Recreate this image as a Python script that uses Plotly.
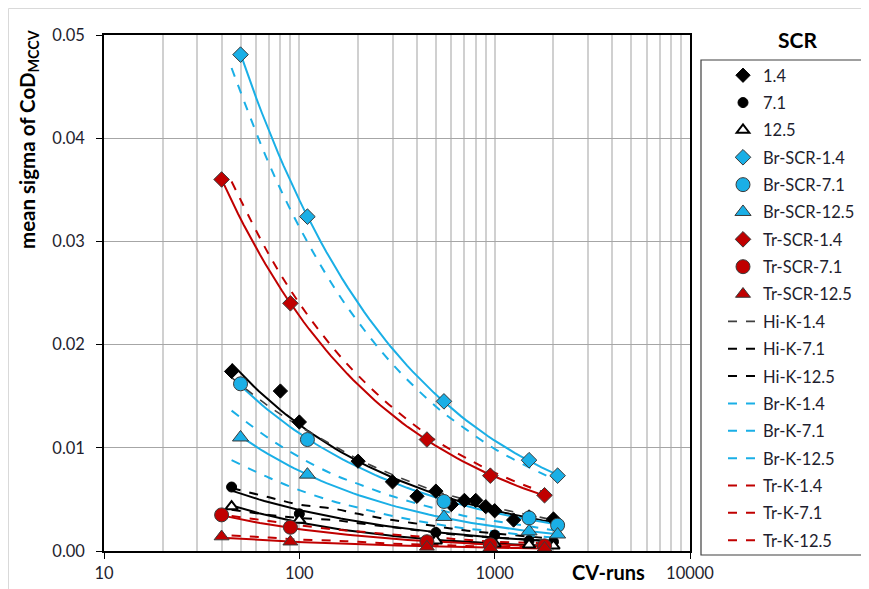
import numpy as np
import plotly.graph_objects as go

# ---------------- data ----------------
hi_x_14 = [45, 80, 100, 200, 300, 400, 500, 600, 700, 800, 900, 1000, 1250, 1500, 2000]
hi_y_14 = [0.0174, 0.0155, 0.0125, 0.0087, 0.0067, 0.0053, 0.0058, 0.0045, 0.0049, 0.0049,
           0.0043, 0.0039, 0.0030, 0.0033, 0.0031]
hi_x_71 = [45, 100, 500, 1000, 1500, 2000]
hi_y_71 = [0.0062, 0.0036, 0.0018, 0.00155, 0.0010, 0.0009]
hi_x_125 = [45, 100, 500, 1000, 1500, 2000]
hi_y_125 = [0.0043, 0.0030, 0.0010, 0.0007, 0.0006, 0.0005]

br_x = [50, 110, 550, 1500, 2100]
br_y_14 = [0.0481, 0.0324, 0.0145, 0.0088, 0.0073]
br_y_71 = [0.0162, 0.0108, 0.0048, 0.0032, 0.0025]
br_y_125 = [0.0110, 0.0074, 0.0033, 0.0019, 0.0016]

tr_x = [40, 90, 450, 950, 1800]
tr_y_14 = [0.0360, 0.0240, 0.0108, 0.0073, 0.0054]
tr_y_71 = [0.0035, 0.0023, 0.0009, 0.0006, 0.0005]
tr_y_125 = [0.0014, 0.0009, 0.0004, 0.0003, 0.0003]

k_x = [45, 70, 100, 150, 200, 300, 500, 700, 1000, 1500, 2000]
hi_k_14 = [0.0168, 0.0140, 0.0121, 0.0102, 0.0089, 0.0074, 0.0058, 0.0050, 0.0042, 0.0035, 0.0030]
hi_k_71 = [0.0061, 0.0052, 0.0045, 0.0041, 0.0036, 0.0030, 0.0024, 0.0020, 0.0017, 0.0014, 0.0012]
hi_k_125 = [0.0040, 0.0035, 0.0032, 0.0030, 0.0027, 0.0023, 0.0018, 0.0015, 0.0013, 0.0011, 0.0009]
br_k_14 = [0.0468, 0.0375, 0.0314, 0.0256, 0.0222, 0.0181, 0.0140, 0.0119, 0.0099, 0.0081, 0.0070]
br_k_71 = [0.0136, 0.0109, 0.0091, 0.0074, 0.0065, 0.0053, 0.0041, 0.0034, 0.0029, 0.0024, 0.0020]
br_k_125 = [0.0088, 0.0071, 0.0059, 0.0048, 0.0042, 0.0034, 0.0026, 0.0022, 0.0019, 0.0015, 0.0013]
tr_k_14 = [0.0358, 0.0287, 0.0240, 0.0196, 0.0170, 0.0139, 0.0107, 0.0091, 0.0076, 0.0062, 0.0054]
tr_k_71 = [0.0034, 0.0029, 0.0025, 0.0021, 0.0019, 0.0016, 0.0013, 0.0011, 0.0009, 0.0008, 0.0007]
tr_k_125 = [0.0015, 0.0013, 0.0011, 0.0010, 0.0009, 0.0007, 0.0006, 0.0005, 0.0004, 0.0004, 0.0003]

x_tick_vals = [10, 100, 1000, 10000]
x_tick_text = ["10", "100", "1000", "10000"]
x_minor_vals = [m * d for d in (10, 100, 1000) for m in range(2, 10)]

# ---------------- styles ----------------
BLACK = "#000000"
BLUE = "#1AAFE6"
RED = "#C00000"
EDGE = "#3A3A3A"
FONT = "Lato, 'Noto Sans', sans-serif"
TXT = "#1E1E2E"

fig = go.Figure()


def power_fit(xs, ys, n=60):
    lx, ly = np.log10(xs), np.log10(ys)
    b, a = np.polyfit(lx, ly, 1)
    xx = np.logspace(lx.min(), lx.max(), n)
    return xx, 10 ** (a + b * np.log10(xx))


marker_series = [
    ("1.4", hi_x_14, hi_y_14, dict(symbol="diamond", size=11, color=BLACK, line=dict(color=BLACK, width=1)), BLACK),
    ("7.1", hi_x_71, hi_y_71, dict(symbol="circle", size=10, color=BLACK, line=dict(color=BLACK, width=1)), BLACK),
    ("12.5", hi_x_125, hi_y_125, dict(symbol="triangle-up", size=11, color="white", line=dict(color=BLACK, width=2)), BLACK),
    ("Br-SCR-1.4", br_x, br_y_14, dict(symbol="diamond", size=12, color=BLUE, line=dict(color=EDGE, width=1)), BLUE),
    ("Br-SCR-7.1", br_x, br_y_71, dict(symbol="circle", size=14, color=BLUE, line=dict(color=EDGE, width=1)), BLUE),
    ("Br-SCR-12.5", br_x, br_y_125, dict(symbol="triangle-up", size=14, color=BLUE, line=dict(color=EDGE, width=1)), BLUE),
    ("Tr-SCR-1.4", tr_x, tr_y_14, dict(symbol="diamond", size=12, color=RED, line=dict(color=EDGE, width=1)), RED),
    ("Tr-SCR-7.1", tr_x, tr_y_71, dict(symbol="circle", size=14, color=RED, line=dict(color=EDGE, width=1)), RED),
    ("Tr-SCR-12.5", tr_x, tr_y_125, dict(symbol="triangle-up", size=13, color=RED, line=dict(color=EDGE, width=1)), RED),
]

k_series = [
    ("Hi-K-1.4", hi_k_14, "#404040", 1.6),
    ("Hi-K-7.1", hi_k_71, BLACK, 2),
    ("Hi-K-12.5", hi_k_125, BLACK, 2),
    ("Br-K-1.4", br_k_14, BLUE, 2),
    ("Br-K-7.1", br_k_71, BLUE, 2),
    ("Br-K-12.5", br_k_125, BLUE, 2),
    ("Tr-K-1.4", tr_k_14, RED, 2),
    ("Tr-K-7.1", tr_k_71, RED, 2),
    ("Tr-K-12.5", tr_k_125, RED, 2),
]

# trendlines (power fits, not in legend)
for name, xs, ys, mk, col in marker_series:
    tx, ty = power_fit(np.array(xs, float), np.array(ys, float))
    fig.add_trace(go.Scatter(x=tx, y=ty, mode="lines", line=dict(color=col, width=2),
                             legendgroup=name, showlegend=False, hoverinfo="skip"))

# K curves
for i, (name, ys, col, w) in enumerate(k_series):
    fig.add_trace(go.Scatter(x=k_x, y=ys, mode="lines", name=name,
                             line=dict(color=col, width=w, dash="dash", shape="spline"),
                             legendgroup=name, legendrank=100 + i))

# markers on top
for i, (name, xs, ys, mk, col) in enumerate(marker_series):
    fig.add_trace(go.Scatter(x=xs, y=ys, mode="markers", name=name, marker=mk,
                             legendgroup=name, legendrank=1 + i))

# ---------------- layout ----------------
# the page body adds an 8 px margin, so the figure is drawn 8 px smaller
OFF = 8
W, H = 869 - OFF, 589 - OFF
L, T = 104 - OFF, 35 - OFF
R = W - (690 - OFF)
B = H - (551 - OFF)
pw, ph = W - L - R, H - T - B


def px_x(px):
    return (px - OFF - L) / pw


def px_y(py):
    return (H - B - (py - OFF)) / ph


fig.update_layout(
    width=W, height=H,
    margin=dict(l=L, r=R, t=T, b=B, pad=0, autoexpand=False),
    paper_bgcolor="white", plot_bgcolor="white",
    font=dict(family=FONT, size=16, color=TXT),
    showlegend=True,
    legend=dict(
        x=px_x(723), y=px_y(58), xanchor="left", yanchor="top",
        borderwidth=0, bgcolor="rgba(0,0,0,0)",
        font=dict(family=FONT, size=16.5, color=TXT),
        traceorder="grouped", tracegroupgap=2.9,
        entrywidth=110, entrywidthmode="pixels",
        itemsizing="trace",
    ),
    xaxis=dict(
        type="log", range=[1, 4],
        tickvals=x_tick_vals, ticktext=x_tick_text,
        ticks="outside", ticklen=6, tickcolor=BLACK,
        showline=True, linecolor=BLACK, linewidth=1.5, mirror=True,
        showgrid=True, gridcolor="#D0D0D0", gridwidth=1.5,
        minor=dict(tickvals=x_minor_vals, showgrid=True, gridcolor="#D0D0D0", gridwidth=1.5, ticks=""),
        tickfont=dict(size=16.5),
        zeroline=False,
    ),
    yaxis=dict(
        range=[0, 0.05], dtick=0.01, tickformat=".2f",
        ticks="outside", ticklen=6, tickcolor=BLACK,
        ticklabelstandoff=8,
        showline=True, linecolor=BLACK, linewidth=1.5, mirror=True,
        showgrid=True, gridcolor="#A6A6A6", gridwidth=1.3,
        tickfont=dict(size=16.5),
        zeroline=False,
    ),
    annotations=[
        dict(text="<b>SCR</b>", x=px_x(797), y=px_y(39), xref="paper", yref="paper",
             showarrow=False, font=dict(size=21, color=BLACK), xanchor="center", yanchor="middle"),
        dict(text="<b>CV-runs</b>", x=px_x(608), y=px_y(572), xref="paper", yref="paper",
             showarrow=False, font=dict(size=20, color=BLACK), xanchor="center", yanchor="middle"),
        dict(text="<b>mean sigma of CoD<sub>MCCV</sub></b>", x=px_x(28), y=px_y(139),
             xref="paper", yref="paper", textangle=-90,
             showarrow=False, font=dict(size=20.5, color=BLACK), xanchor="center", yanchor="middle"),
    ],
    shapes=[
        dict(type="rect", xref="paper", yref="paper",
             x0=px_x(8.5), x1=px_x(875), y0=px_y(595), y1=px_y(8.5),
             line=dict(color="#D9D9D9", width=1), layer="below"),
        dict(type="rect", xref="paper", yref="paper",
             x0=px_x(701), x1=px_x(875), y0=px_y(555), y1=px_y(60),
             line=dict(color="#404040", width=1.2), fillcolor="white", layer="below"),
    ],
)

fig.write_html("out.html")
